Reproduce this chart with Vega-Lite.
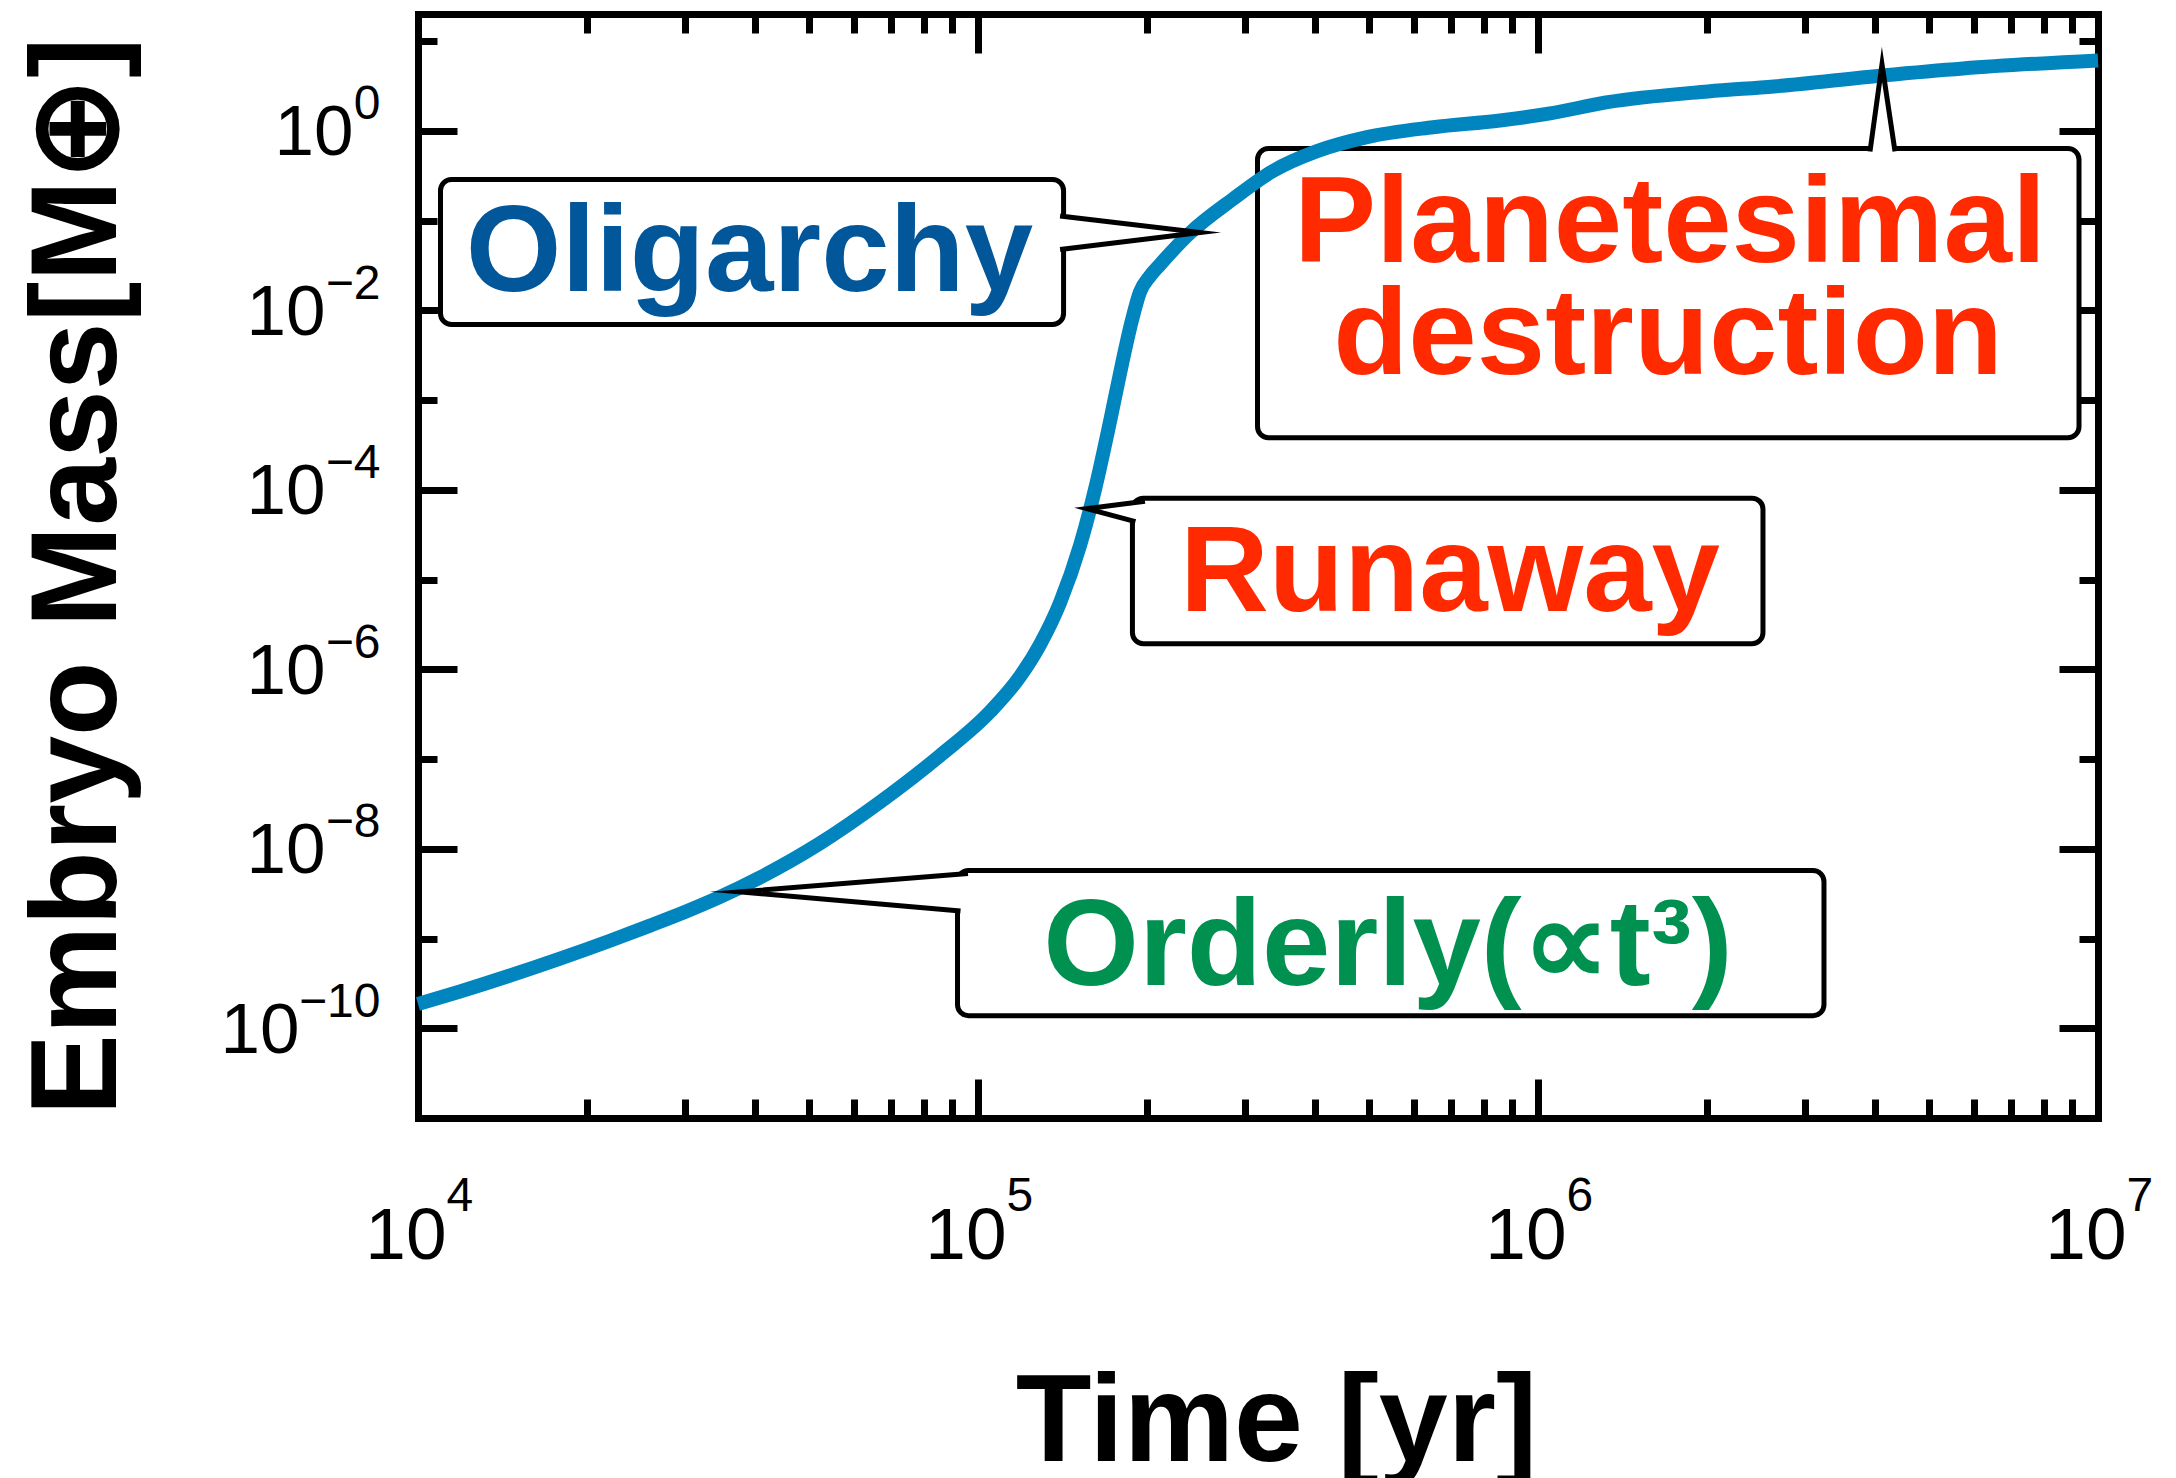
{
  "$schema": "https://vega.github.io/schema/vega-lite/v6.json",
  "autosize": {"type": "none"},
  "padding": {"left": 418, "top": 14, "right": 78, "bottom": 360},
  "width": 1680,
  "height": 1104,
  "background": "white",
  "config": {
    "view": {"stroke": null},
    "axis": {
      "grid": false,
      "zindex": 1,
      "tickColor": "black",
      "tickWidth": 7,
      "tickCap": "butt",
      "domainColor": "black",
      "domainWidth": 7,
      "domainCap": "square",
      "labelFont": "Liberation Sans",
      "labelColor": "black",
      "labelOverlap": false,
      "labelFlush": false,
      "labelBound": false,
      "titleFont": "Liberation Sans",
      "titleColor": "black"
    }
  },
  "datasets": {
    "curve": [
      {"time": 10000, "mass": 1.8664e-10},
      {"time": 11885, "mass": 2.5719e-10},
      {"time": 14600, "mass": 3.8696e-10},
      {"time": 17930, "mass": 5.9694e-10},
      {"time": 22021, "mass": 9.4508e-10},
      {"time": 25959, "mass": 1.3924e-9},
      {"time": 30104, "mass": 2.0e-9},
      {"time": 34624, "mass": 2.9088e-9},
      {"time": 40808, "mass": 4.7867e-9},
      {"time": 52233, "mass": 1.1516e-8},
      {"time": 66834, "mass": 3.3078e-8},
      {"time": 85548, "mass": 1.0912e-7},
      {"time": 105060, "mass": 3.3584e-7},
      {"time": 118850, "mass": 8.2907e-7},
      {"time": 129030, "mass": 1.885e-6},
      {"time": 140140, "mass": 5.5409e-6},
      {"time": 152130, "mass": 2.3929e-5},
      {"time": 161800, "mass": 1.0129e-4},
      {"time": 172070, "mass": 5.7438e-4},
      {"time": 180760, "mass": 2.5131e-3},
      {"time": 188360, "mass": 7.7765e-3},
      {"time": 194660, "mass": 0.015951},
      {"time": 202830, "mass": 0.024054},
      {"time": 211350, "mass": 0.032322},
      {"time": 239090, "mass": 0.072541},
      {"time": 285380, "mass": 0.17366},
      {"time": 336310, "mass": 0.35624},
      {"time": 403060, "mass": 0.59238},
      {"time": 495050, "mass": 0.84852},
      {"time": 649380, "mass": 1.094},
      {"time": 855480, "mass": 1.3025},
      {"time": 1050600, "mass": 1.5592},
      {"time": 1322700, "mass": 2.0686},
      {"time": 2011900, "mass": 2.743},
      {"time": 2638500, "mass": 3.1177},
      {"time": 4114500, "mass": 4.1343},
      {"time": 5741000, "mass": 4.9494},
      {"time": 10000000, "mass": 6.0771}
    ],
    "boxes": [
      {"phase": "Oligarchy", "t0": 10969, "t1": 142170, "m0": 0.2865, "m1": 0.0069267},
      {"phase": "Planetesimal destruction", "t0": 315580, "t1": 9248600, "m0": 0.63474, "m1": 0.00038096},
      {"phase": "Runaway", "t0": 188700, "t1": 2522000, "m0": 8.0603e-5, "m1": 1.924e-6},
      {"phase": "Orderly", "t0": 91920, "t1": 3241000, "m0": 5.7146e-9, "m1": 1.3816e-10}
    ],
    "pointers": [
      {"phase": "Oligarchy", "i": 1, "time": 140140, "mass": 0.11222},
      {"phase": "Oligarchy", "i": 2, "time": 249170, "mass": 0.073479},
      {"phase": "Oligarchy", "i": 3, "time": 140140, "mass": 0.0475},
      {"phase": "Planetesimal destruction", "i": 1, "time": 3916000, "mass": 0.5878},
      {"phase": "Planetesimal destruction", "i": 2, "time": 4114000, "mass": 5.4863},
      {"phase": "Planetesimal destruction", "i": 3, "time": 4340000, "mass": 0.5878},
      {"phase": "Runaway", "i": 1, "time": 198700, "mass": 7.4643e-5},
      {"phase": "Runaway", "i": 2, "time": 156540, "mass": 6.1543e-5},
      {"phase": "Runaway", "i": 3, "time": 191040, "mass": 4.4095e-5},
      {"phase": "Orderly", "i": 1, "time": 95970, "mass": 5.2909e-9},
      {"phase": "Orderly", "i": 2, "time": 37584, "mass": 3.3075e-9},
      {"phase": "Orderly", "i": 3, "time": 93060, "mass": 2.031e-9}
    ],
    "labels": [
      {"phase": "Oligarchy", "text": "Oligarchy", "time": 39070, "mass": 0.016368},
      {"phase": "Planetesimal destruction", "text": "Planetesimal", "time": 1721000, "mass": 0.0349},
      {"phase": "Planetesimal destruction", "text": "destruction", "time": 1707000, "mass": 0.0019693},
      {"phase": "Runaway", "text": "Runaway", "time": 696500, "mass": 4.41e-6},
      {"phase": "Orderly", "text": "Orderly(∝t³)", "time": 539700, "mass": 3.039e-10}
    ]
  },
  "resolve": {"axis": {"x": "independent", "y": "independent"}},
  "layer": [
    {
      "data": {"name": "boxes"},
      "mark": {"type": "rect", "fill": "white", "stroke": "black", "strokeWidth": 5, "cornerRadius": 11},
      "encoding": {
        "x": {"field": "t0", "type": "quantitative", "scale": {"type": "log", "domain": [10000, 10000000], "nice": false}, "axis": null},
        "x2": {"field": "t1"},
        "y": {"field": "m0", "type": "quantitative", "scale": {"type": "log", "domain": [1e-11, 20], "nice": false}, "axis": null},
        "y2": {"field": "m1"}
      }
    },
    {
      "data": {"name": "pointers"},
      "mark": {"type": "line", "fill": "white", "strokeOpacity": 0},
      "encoding": {
        "x": {"field": "time", "type": "quantitative", "axis": null},
        "y": {"field": "mass", "type": "quantitative", "axis": null},
        "detail": {"field": "phase"},
        "order": {"field": "i"}
      }
    },
    {
      "data": {"name": "curve"},
      "mark": {"type": "line", "color": "#0085BF", "strokeWidth": 14, "interpolate": "monotone"},
      "encoding": {
        "x": {
          "field": "time", "type": "quantitative",
          "axis": {
            "orient": "bottom",
            "values": [10000, 100000, 1000000, 10000000],
            "tickSize": -39,
            "labelExpr": "'10'",
            "labelFontSize": 73,
            "labelAlign": "right",
            "labelBaseline": "alphabetic",
            "labelOffset": 28,
            "labelPadding": 179,
            "title": "Time [yr]",
            "titleFontSize": 124,
            "titleFontWeight": "bold",
            "titleAlign": "center",
            "titleBaseline": "alphabetic",
            "titleX": 858,
            "titleY": 342
          }
        },
        "y": {
          "field": "mass", "type": "quantitative",
          "axis": {
            "orient": "left",
            "values": [1, 0.01, 0.0001, 1e-6, 1e-8, 1e-10],
            "tickSize": -39,
            "labelExpr": "'10'",
            "labelFontSize": 71,
            "labelAlign": "right",
            "labelBaseline": "alphabetic",
            "labelOffset": 24,
            "labelPadding": {
              "condition": [
                {"test": "datum.value > 0.5", "value": 104},
                {"test": "datum.value < 1e-9", "value": 158}
              ],
              "value": 132
            },
            "title": "Embryo Mass[M⊕]",
            "titleFontSize": 122,
            "titleFontWeight": "bold",
            "titleAngle": 270,
            "titleAlign": "center",
            "titleBaseline": "alphabetic",
            "titleX": -303,
            "titleY": 562
          }
        }
      }
    },
    {
      "data": {"name": "pointers"},
      "mark": {"type": "line", "color": "black", "strokeWidth": 5, "strokeJoin": "miter", "strokeMiterLimit": 30},
      "encoding": {
        "x": {"field": "time", "type": "quantitative", "axis": null},
        "y": {"field": "mass", "type": "quantitative", "axis": null},
        "detail": {"field": "phase"},
        "order": {"field": "i"}
      }
    },
    {
      "data": {"name": "labels"},
      "mark": {"type": "text", "font": "Liberation Sans", "fontWeight": "bold", "fontSize": 123, "align": "center", "baseline": "alphabetic"},
      "encoding": {
        "x": {"field": "time", "type": "quantitative", "axis": null},
        "y": {"field": "mass", "type": "quantitative", "axis": null},
        "text": {"field": "text"},
        "color": {
          "field": "phase", "type": "nominal", "legend": null,
          "scale": {
            "domain": ["Oligarchy", "Planetesimal destruction", "Runaway", "Orderly"],
            "range": ["#02569A", "#FF2A00", "#FF2A00", "#009150"]
          }
        }
      }
    },
    {
      "data": {"name": "curve"},
      "mark": {"type": "point", "opacity": 0},
      "encoding": {
        "x": {
          "field": "time", "type": "quantitative",
          "axis": {
            "orient": "bottom", "domain": false, "ticks": false, "title": null,
            "values": [10000, 100000, 1000000, 10000000],
            "labelExpr": "'' + round(log(datum.value)/LN10)",
            "labelFontSize": 48,
            "labelAlign": "left",
            "labelBaseline": "alphabetic",
            "labelOffset": 28,
            "labelPadding": 92
          }
        },
        "y": {
          "field": "mass", "type": "quantitative",
          "axis": {
            "orient": "left", "domain": false, "ticks": false, "title": null,
            "values": [1, 0.01, 0.0001, 1e-6, 1e-8, 1e-10],
            "labelExpr": "datum.value > 0.5 ? '0' : '−' + round(-log(datum.value)/LN10)",
            "labelFontSize": 48,
            "labelAlign": "right",
            "labelBaseline": "alphabetic",
            "labelOffset": -12,
            "labelPadding": 38
          }
        }
      }
    },
    {
      "data": {"name": "curve"},
      "mark": {"type": "point", "opacity": 0},
      "encoding": {
        "x": {
          "field": "time", "type": "quantitative",
          "axis": {
            "orient": "bottom", "domain": false, "labels": false, "title": null, "tickSize": -19,
            "values": [20000, 30000, 40000, 50000, 60000, 70000, 80000, 90000, 200000, 300000, 400000, 500000, 600000, 700000, 800000, 900000, 2000000, 3000000, 4000000, 5000000, 6000000, 7000000, 8000000, 9000000]
          }
        },
        "y": {
          "field": "mass", "type": "quantitative",
          "axis": {
            "orient": "left", "domain": false, "labels": false, "title": null, "tickSize": -19,
            "values": [10, 0.1, 0.001, 1e-5, 1e-7, 1e-9]
          }
        }
      }
    },
    {
      "data": {"name": "curve"},
      "mark": {"type": "point", "opacity": 0},
      "encoding": {
        "x": {
          "field": "time", "type": "quantitative",
          "axis": {
            "orient": "top", "labels": false, "title": null, "tickSize": -39,
            "values": [10000, 100000, 1000000, 10000000]
          }
        },
        "y": {
          "field": "mass", "type": "quantitative",
          "axis": {
            "orient": "right", "labels": false, "title": null, "tickSize": -39,
            "values": [1, 0.01, 0.0001, 1e-6, 1e-8, 1e-10]
          }
        }
      }
    },
    {
      "data": {"name": "curve"},
      "mark": {"type": "point", "opacity": 0},
      "encoding": {
        "x": {
          "field": "time", "type": "quantitative",
          "axis": {
            "orient": "top", "domain": false, "labels": false, "title": null, "tickSize": -19,
            "values": [20000, 30000, 40000, 50000, 60000, 70000, 80000, 90000, 200000, 300000, 400000, 500000, 600000, 700000, 800000, 900000, 2000000, 3000000, 4000000, 5000000, 6000000, 7000000, 8000000, 9000000]
          }
        },
        "y": {
          "field": "mass", "type": "quantitative",
          "axis": {
            "orient": "right", "domain": false, "labels": false, "title": null, "tickSize": -19,
            "values": [10, 0.1, 0.001, 1e-5, 1e-7, 1e-9]
          }
        }
      }
    }
  ]
}
